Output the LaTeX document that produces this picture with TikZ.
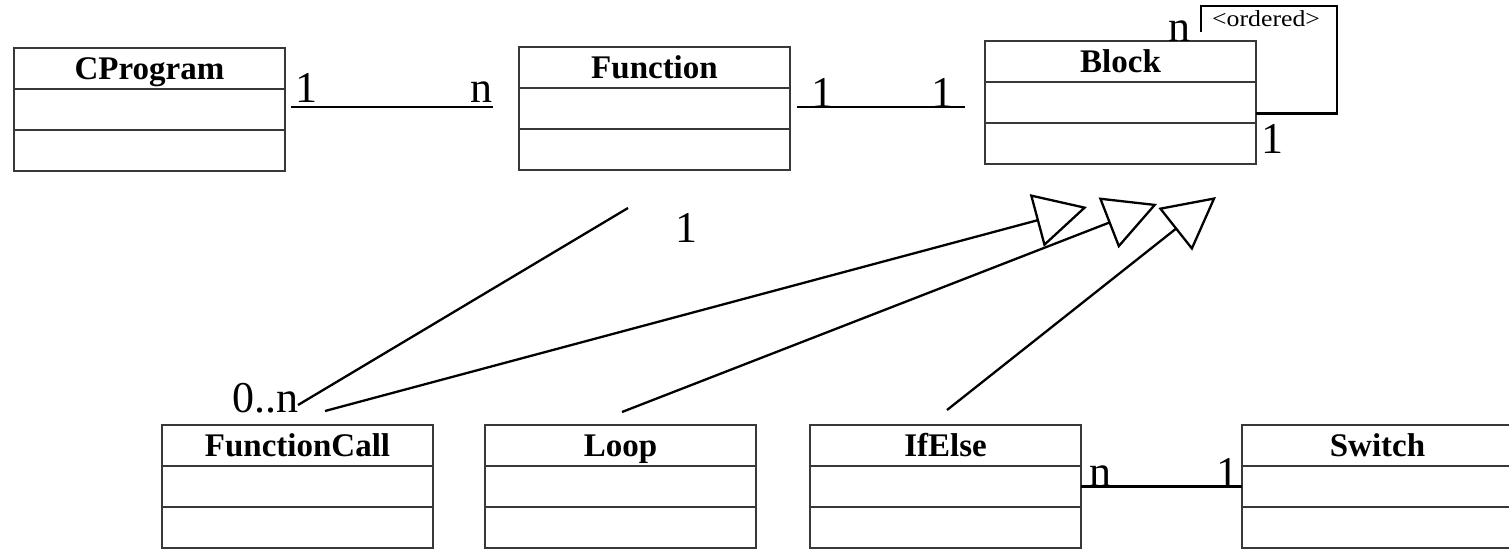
\documentclass[tikz,border=0pt]{standalone}
\usepackage{fontspec}
\usepackage{graphicx}
\setmainfont{Liberation Serif}
\usetikzlibrary{arrows.meta}

% One UML class: title compartment plus two empty compartments.
% #1 name, #2 x, #3 y (top-left corner), #4 title
\newcommand\umlclass[4]{%
  \node[classtitle] (#1) at (#2,#3) {#4};
  \node[classrow] (#1-attr) at (#1.south) {};
  \node[classrow] (#1-ops) at (#1-attr.south) {};
}

\begin{document}
\begin{tikzpicture}[x=1pt, y=-1pt,
  box/.style={draw=black!78, line width=2pt, inner sep=0pt, outer sep=0pt,
    minimum width=271pt, minimum height=41pt},
  classtitle/.style={box, anchor=north west,
    font=\fontsize{33}{36}\selectfont\bfseries, text height=22pt, text depth=0pt},
  classrow/.style={box, anchor=north},
  link/.style={draw=black, line width=2.3pt},
  isa/.style={link, -{Triangle[open, length=52pt, width=54pt]}},
  mult/.style={inner sep=0pt, anchor=base, font=\fontsize{44}{48}\selectfont},
]
\useasboundingbox (0,0) rectangle (1509,549);

% classes
\umlclass{cprog}{14}{48}{CProgram}
\umlclass{func}{519}{47}{Function}
\umlclass{block}{985}{41}{Block}
\umlclass{fcall}{162}{425}{FunctionCall}
\umlclass{loop}{485}{425}{Loop}
\umlclass{ifelse}{810}{425}{IfElse}
\umlclass{switch}{1242}{425}{Switch}

% connector end points
\coordinate (cp-r) at (291,107);
\coordinate (fn-l) at (493,107);
\coordinate (fn-r) at (797,107);
\coordinate (bl-l) at (965,107);
\coordinate (fn-b) at (628,208);
\coordinate (fc-t) at (298,405);
\coordinate (fc-g) at (325,411);
\coordinate (lp-g) at (622,412);
\coordinate (ie-g) at (947,410);
\coordinate (tip1) at (1087,207);
\coordinate (tip2) at (1157,204);
\coordinate (tip3) at (1216,197);
\coordinate (loop-end) at (1201,32);

% associations
\draw[link] (cp-r) -- (fn-l);
\draw[link] (fn-r) -- (bl-l);
\draw[link] (fn-b) -- (fc-t);
\draw[link] (ifelse-attr.east) -- (switch-attr.west);
\draw[link] ([yshift=-11pt]block-attr.east) -| (1337,6) -| (loop-end);

% generalizations
\draw[isa] (fc-g) -- (tip1);
\draw[isa] (lp-g) -- (tip2);
\draw[isa] (ie-g) -- (tip3);

% multiplicities
\node[mult] (m1) at (306,102) {1};
\node[mult] (m2) at (481,102) {n};
\node[mult] (m3) at (822.5,107) {1};
\node[mult] (m4) at (942.5,107) {1};
\node[mult] (m5) at (686,242) {1};
\node[mult] (m6) at (265,412) {0..n};
\node[mult] (m7) at (1100,486) {n};
\node[mult] (m8) at (1227.5,487) {1};
\node[mult] (m9) at (1179,41) {n};
\node[mult] (m10) at (1272,153) {1};
\node[inner sep=0pt, anchor=base west, font=\fontsize{23}{26}\selectfont]
  (ord) at (1212,26) {\scalebox{1.12}[1]{<ordered>}};
\end{tikzpicture}
\end{document}
